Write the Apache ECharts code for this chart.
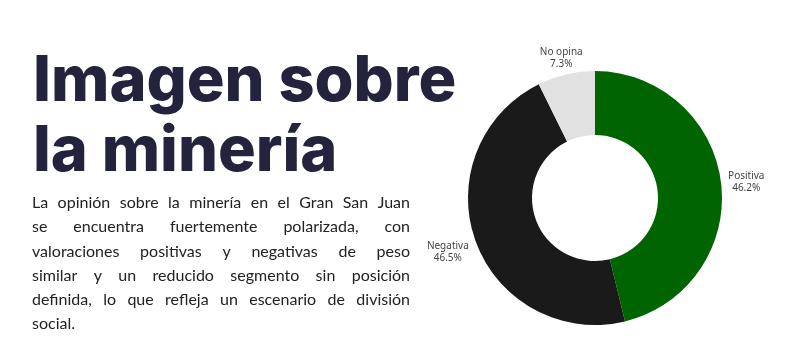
<!DOCTYPE html>
<html lang="es">
<head>
<meta charset="UTF-8">
<title>Imagen sobre la minería</title>
<script src="https://cdn.jsdelivr.net/npm/echarts@6/dist/echarts.min.js"></script>
<style>
  html, body { margin: 0; padding: 0; background: #fff; }
  #chart { width: 790px; height: 354px; }
</style>
</head>
<body>
<div id="chart"></div>
<script>
// datos
var categories = ['Positiva', 'Negativa', 'No opina'];
var values = [46.2, 46.5, 7.3];
var sliceColors = ['#006400', '#1a1a1a', '#e1e1e1'];

var titleLines = ['Imagen sobre', 'la minería'];
var paraLines = [
    'La opinión sobre la minería en el Gran San Juan',
    'se encuentra fuertemente polarizada, con',
    'valoraciones positivas y negativas de peso',
    'similar y un reducido segmento sin posición',
    'definida, lo que refleja un escenario de división',
    'social.'
];

var paraFont = '16px Lato';
var paraLeft = 32, paraRight = 410, paraTop = 203, paraLineH = 24.2;

// ajuste fino de etiquetas (desplazamiento en px)
var labelShift = [[0, 0], [0, 10], [22, -14]];

// texto justificado: se mide cada palabra y se reparte el espacio
var ctx = document.createElement('canvas').getContext('2d');
ctx.font = paraFont;
var graphics = [];

titleLines.forEach(function (t, i) {
    graphics.push({
        type: 'text',
        x: 33,
        y: 82 + i * 70,
        style: {
            text: t,
            font: '800 63px Inter',
            fill: '#23233d',
            textVerticalAlign: 'middle', verticalAlign: 'middle'
        }
    });
});

paraLines.forEach(function (line, i) {
    var words = line.split(' ');
    var y = paraTop + i * paraLineH;
    var last = i == paraLines.length - 1;
    var widths = words.map(function (w) { return ctx.measureText(w).width; });
    var sum = widths.reduce(function (a, b) { return a + b; }, 0);
    var gap = (last || words.length < 2) ? ctx.measureText(' ').width
        : (paraRight - paraLeft - sum) / (words.length - 1);
    var x = paraLeft;
    words.forEach(function (w, k) {
        graphics.push({
            type: 'text',
            x: x,
            y: y,
            style: {
                text: w,
                font: paraFont,
                fill: '#222222',
                textVerticalAlign: 'middle', verticalAlign: 'middle'
            }
        });
        x += widths[k] + gap;
    });
});

var option = {
    backgroundColor: '#ffffff',
    animation: false,
    graphic: graphics,
    series: [{
        type: 'pie',
        center: [595, 198],
        radius: [63, 127],
        startAngle: 90,
        clockwise: true,
        avoidLabelOverlap: false,
        data: categories.map(function (c, i) {
            return { name: c, value: values[i], itemStyle: { color: sliceColors[i] } };
        }),
        label: {
            show: true,
            position: 'outside',
            formatter: function (p) {
                return '{a|' + p.name + '}\n{a|' + p.value.toFixed(1) + '%}';
            },
            rich: {
                a: { align: 'center', fontSize: 10, lineHeight: 12, color: '#444444', fontFamily: 'Noto Sans' }
            }
        },
        labelLine: { show: false, length: 2, length2: 0 },
        labelLayout: function (params) {
            var s = labelShift[params.dataIndex];
            return { dx: s[0], dy: s[1] };
        },
        emphasis: { disabled: true }
    }]
};

var myChart = echarts.init(document.getElementById('chart'));
myChart.setOption(option);
</script>
</body>
</html>
